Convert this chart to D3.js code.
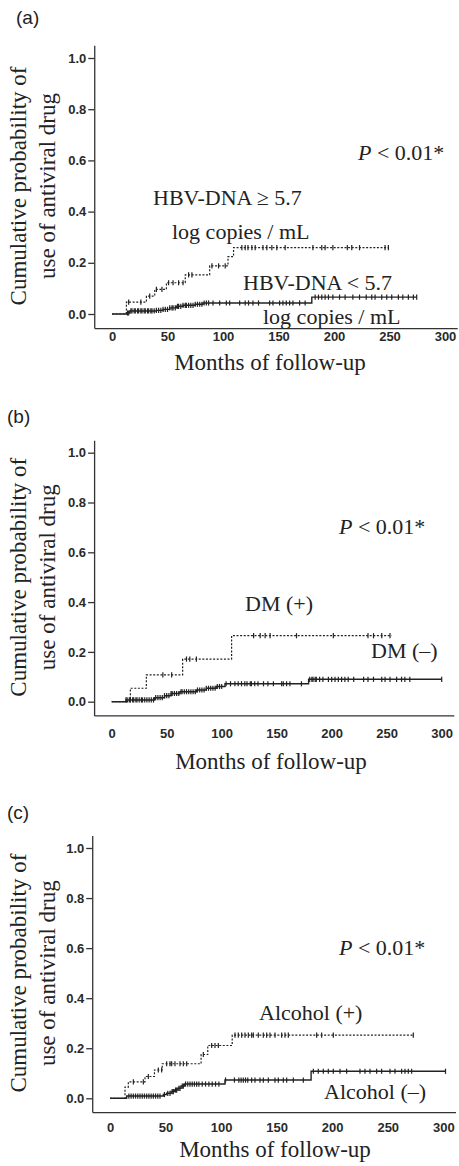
<!DOCTYPE html>
<html>
<head>
<meta charset="utf-8">
<script src="https://cdn.jsdelivr.net/npm/d3@7"></script>
<style>
  body { margin: 0; background: #fff; }
  svg { display: block; }
</style>
</head>
<body>
<div id="viz"></div>
<script>
// ---- data ----
var monthTicks = [0, 50, 100, 150, 200, 250, 300];
var probTicks = [0.0, 0.2, 0.4, 0.6, 0.8, 1.0];
var panelLetters = ["(a)", "(b)", "(c)"];
var pText = "< 0.01*";

// (a) HBV-DNA
var hbvHighSteps = [[0,0],[13,0.046],[31,0.07],[38.5,0.096],[49,0.122],[66,0.153],[88,0.188],[104.5,0.224],[109.5,0.259]];
var hbvHighEnd = 249;
var hbvHighCensor = [15,26,34,40,45,51,55,60,64,69,72,90,96,102,117,120,122.5,126,129,136,139.5,144,148.5,156,181,189,192,199,212,216,223,246,249];
var hbvLowSteps = [[0,0],[13,0.004],[16,0.012],[40,0.014],[46,0.018],[52,0.024],[58,0.03],[64,0.034],[75,0.038],[82,0.043],[180,0.066]];
var hbvLowEnd = 274.5;
var hbvLowCensor = [14,15,17,18,20,21,23,24,26,27,29,30,32,33,35,36,38,40,42,44,46,48,50,52,54,55,57,59,60,62,64,66,67,69,71,73,75,77,79,81,83,85,87,
  91,97,103,106,115,120,123,127,132,142,145,151,154,157,160,163,169,174,
  183,186,189,192,195,199,205,210,217,223,229,234,237,243,247.5,252,258,262,267,271.5,274.5];
var hbvLabels = ["HBV-DNA \u2265 5.7", "log copies / mL", "HBV-DNA < 5.7", "log copies / mL"];

// (b) DM
var dmPosSteps = [[0,0],[17,0.054],[31.5,0.108],[64.5,0.171],[109,0.265]];
var dmPosEnd = 254.5;
var dmPosCensor = [46.5,54.5,68,71,77,129,135,139.5,144,168,201.5,233,238,245.5,253];
var dmNegSteps = [[0,0],[13,0.007],[39,0.016],[48,0.024],[54,0.033],[62,0.04],[77,0.047],[86,0.054],[95,0.061],[103,0.072],[179,0.09]];
var dmNegEnd = 300;
var dmNegCensor = [13,14,16,17,19,20,22,23,25,27,28,30,32,34,36,38,40,42,44,46,48,50,52,54,55,57,59,61,63,64,66,68,70,72,74,76,78,80,82,84,86,88,90,92,94,96,98,100,
  104,108,112,115,118,121,123,126,127,130,133,138,142,147,154.5,156,159,162,172.5,
  180,182,183,185,186,189,192,197,200,203,206,209,212,215,220,229,233,238,245.5,248.5,253,259,263.5,266.5,271,300];
var dmLabels = ["DM (+)", "DM (\u2013)"];

// (c) Alcohol
var alcPosSteps = [[0,0],[13.5,0.045],[16.5,0.066],[31.5,0.087],[40,0.113],[47,0.138],[82,0.175],[88,0.211],[110,0.252]];
var alcPosEnd = 273;
var alcPosCensor = [21,30,34.5,43.5,46.5,51,54,55.5,58.5,63,66,69,84,91.5,94.5,97.5,112.5,115.5,118.5,121.5,124.5,127.5,129,133.5,138,141,144,148.5,154.5,157.5,160.5,186,190.5,201,273];
var alcNegSteps = [[0,0],[15,0.009],[48,0.015],[51,0.02],[55,0.027],[58,0.033],[61,0.04],[64,0.049],[67,0.057],[103.5,0.073],[181,0.108]];
var alcNegEnd = 302;
var alcNegCensor = [17,19,21,23,25,27,29,31,33,35,37,39,41,43,45,49,52,54,56,57,59,60,62,63,65,66,68,70,72,74,76,78,80,83,86,89,92,95,98,
  104,112,116,118,120,122,124,127.5,130.5,135,138,142.5,148.5,151.5,156,159,165,174,
  183,187.5,192,196.5,201,207,213,225,229.5,234,240,244.5,252,256.5,262.5,265.5,268.5,271.5,302];
var alcLabels = ["Alcohol (+)", "Alcohol (\u2013)"];

var xTitle = "Months of follow-up";
var yTitle = ["Cumulative probability of", "use of antiviral drug"];

// ---- layout ----
var W = 459, H = 1166;
var serif = "'Liberation Serif', 'Times New Roman', serif";
var sans = "'Liberation Sans', Arial, sans-serif";
var ink = "#222";

var panels = [
  {x0:112, x300:445, y0:314, y1:58, pad:3.5, titleX:270, titleY:370, letX:16, letY:24, pX:358, pY:160,
   series:[{steps:hbvLowSteps, end:hbvLowEnd, censor:hbvLowCensor, dash:null},
           {steps:hbvHighSteps, end:hbvHighEnd, censor:hbvHighCensor, dash:"2,1.6"}],
   labels:hbvLabels, labelPos:[[153,205],[172,238.5],[243,290],[263,323.5]]},
  {x0:111.7, x300:441.7, y0:701.7, y1:452.7, pad:13, titleX:271, titleY:769, letX:7, letY:423, pX:339, pY:534,
   series:[{steps:dmNegSteps, end:dmNegEnd, censor:dmNegCensor, dash:null},
           {steps:dmPosSteps, end:dmPosEnd, censor:dmPosCensor, dash:"2,1.6"}],
   labels:dmLabels, labelPos:[[245,611],[371,658]]},
  {x0:110, x300:443.3, y0:1098.3, y1:848, pad:10.5, titleX:275, titleY:1157, letX:7, letY:819, pX:339, pY:955,
   series:[{steps:alcNegSteps, end:alcNegEnd, censor:alcNegCensor, dash:null},
           {steps:alcPosSteps, end:alcPosEnd, censor:alcPosCensor, dash:"2,1.6"}],
   labels:alcLabels, labelPos:[[259,1020],[324,1098.5]]}
];

var svg = d3.select("#viz")
  .append("svg")
  .attr("width", W)
  .attr("height", H);

// value of a step function at time t
function stepAt(steps, t) {
  var v = 0;
  steps.forEach(function(s) { if (s[0] <= t) v = s[1]; });
  return v;
}

panels.forEach(function(p, i) {
  var ppm = (p.x300 - p.x0) / 300;
  var ppv = p.y0 - p.y1;
  var x = d3.scaleLinear().domain([-16, 311]).range([p.x0 - 16 * ppm, p.x0 + 311 * ppm]);
  var y = d3.scaleLinear().domain([-0.055, 1.05]).range([p.y0 + 0.055 * ppv, p.y0 - 1.05 * ppv]);

  var g = svg.append("g");

  // axes
  var yAxis = g.append("g")
    .attr("transform", "translate(" + x(-16) + ",0)")
    .call(d3.axisLeft(y).tickValues(probTicks).tickFormat(d3.format(".1f")).tickSize(6).tickSizeOuter(0).tickPadding(2));
  var xAxis = g.append("g")
    .attr("transform", "translate(0," + y(-0.055) + ")")
    .call(d3.axisBottom(x).tickValues(monthTicks).tickSize(0).tickPadding(p.pad));
  [yAxis, xAxis].forEach(function(a) {
    a.selectAll("path, line").attr("stroke", "#333").attr("stroke-width", 1.3);
    a.selectAll("text").attr("fill", "#2a2a2a")
      .style("font-family", sans).style("font-size", "13px").style("font-weight", "bold");
  });

  // curves
  var line = d3.line()
    .x(function(d) { return x(d[0]); })
    .y(function(d) { return y(d[1]); })
    .curve(d3.curveStepAfter);

  p.series.forEach(function(s) {
    var pts = s.steps.concat([[s.end, s.steps[s.steps.length - 1][1]]]);
    g.append("path")
      .datum(pts)
      .attr("d", line)
      .attr("fill", "none")
      .attr("stroke", "#222")
      .attr("stroke-width", s.dash ? 1.2 : 1.4)
      .attr("stroke-dasharray", s.dash);

    g.selectAll(null).data(s.censor).enter()
      .append("line")
      .attr("x1", function(d) { return x(d); })
      .attr("x2", function(d) { return x(d); })
      .attr("y1", function(d) { return y(stepAt(s.steps, d)) - 2.6; })
      .attr("y2", function(d) { return y(stepAt(s.steps, d)) + 2.6; })
      .attr("stroke", "#222")
      .attr("stroke-width", 1.2);
  });

  // panel letter
  g.append("text")
    .attr("x", p.letX).attr("y", p.letY)
    .style("font-family", sans).style("font-size", "19px")
    .attr("fill", ink)
    .text(panelLetters[i]);

  // y title
  var yc = (p.y0 + p.y1) / 2;
  yTitle.forEach(function(t, k) {
    g.append("text")
      .attr("transform", "translate(" + (26 + k * 28.5) + "," + yc + ") rotate(-90)")
      .attr("text-anchor", "middle")
      .style("font-family", serif).style("font-size", "23px")
      .attr("fill", ink)
      .text(t);
  });

  // x title
  g.append("text")
    .attr("x", p.titleX).attr("y", p.titleY)
    .attr("text-anchor", "middle")
    .style("font-family", serif).style("font-size", "23px")
    .attr("fill", ink)
    .text(xTitle);

  // P value
  var pv = g.append("text")
    .attr("x", p.pX).attr("y", p.pY)
    .style("font-family", serif).style("font-size", "22px")
    .attr("fill", ink);
  pv.append("tspan").style("font-style", "italic").text("P");
  pv.append("tspan").text(" " + pText);

  // group labels
  p.labels.forEach(function(t, k) {
    g.append("text")
      .attr("x", p.labelPos[k][0]).attr("y", p.labelPos[k][1])
      .style("font-family", serif).style("font-size", "22px")
      .attr("fill", ink)
      .text(t);
  });
});
</script>
</body>
</html>
